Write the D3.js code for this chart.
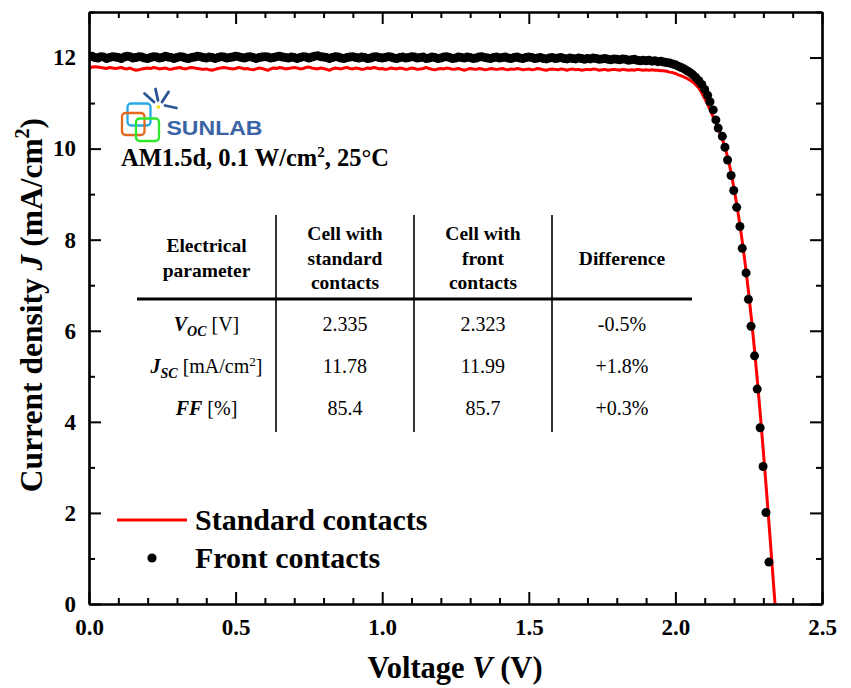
<!DOCTYPE html>
<html>
<head>
<meta charset="utf-8">
<script src="https://cdn.jsdelivr.net/npm/d3@7"></script>
<style>
  body { margin: 0; background: #fff; }
  svg { display: block; }
  svg text { font-family: "Liberation Serif", "Times New Roman", serif; }
</style>
</head>
<body>
<svg id="chart" width="851" height="688"></svg>
<script>
// measurement grid (V) shared by both curves
const gridV = [
  0.00,0.01,0.02,0.03,0.04,0.05,0.06,0.07,0.08,0.09,
  0.10,0.11,0.12,0.13,0.14,0.15,0.16,0.17,0.18,0.19,
  0.20,0.21,0.22,0.23,0.24,0.25,0.26,0.27,0.28,0.29,
  0.30,0.31,0.32,0.33,0.34,0.35,0.36,0.37,0.38,0.39,
  0.40,0.41,0.42,0.43,0.44,0.45,0.46,0.47,0.48,0.49,
  0.50,0.51,0.52,0.53,0.54,0.55,0.56,0.57,0.58,0.59,
  0.60,0.61,0.62,0.63,0.64,0.65,0.66,0.67,0.68,0.69,
  0.70,0.71,0.72,0.73,0.74,0.75,0.76,0.77,0.78,0.79,
  0.80,0.81,0.82,0.83,0.84,0.85,0.86,0.87,0.88,0.89,
  0.90,0.91,0.92,0.93,0.94,0.95,0.96,0.97,0.98,0.99,
  1.00,1.01,1.02,1.03,1.04,1.05,1.06,1.07,1.08,1.09,
  1.10,1.11,1.12,1.13,1.14,1.15,1.16,1.17,1.18,1.19,
  1.20,1.21,1.22,1.23,1.24,1.25,1.26,1.27,1.28,1.29,
  1.30,1.31,1.32,1.33,1.34,1.35,1.36,1.37,1.38,1.39,
  1.40,1.41,1.42,1.43,1.44,1.45,1.46,1.47,1.48,1.49,
  1.50,1.51,1.52,1.53,1.54,1.55,1.56,1.57,1.58,1.59,
  1.60,1.61,1.62,1.63,1.64,1.65,1.66,1.67,1.68,1.69,
  1.70,1.71,1.72,1.73,1.74,1.75,1.76,1.77,1.78,1.79,
  1.80,1.81,1.82,1.83,1.84,1.85,1.86,1.87,1.88,1.89,
  1.90,1.91,1.92,1.93,1.94,1.95,1.96,1.97,1.98,1.99,
  2.00,2.01,2.02,2.03,2.04,2.05,2.06,2.07,2.08,2.09,
  2.10,2.11,2.12,2.13,2.14,2.15,2.16,2.17,2.18,2.19,
  2.20,2.21,2.22,2.23,2.24,2.25,2.26,2.27,2.28,2.29,
  2.30,2.31,2.32,2.33,2.34
];

// Standard contacts (red line), J in mA/cm2 on gridV
const standardJ = [
  11.76,11.79,11.80,11.79,11.78,11.77,11.76,11.78,11.77,11.76,
  11.77,11.78,11.76,11.75,11.77,11.74,11.72,11.73,11.75,11.76,
  11.77,11.76,11.78,11.77,11.75,11.76,11.77,11.75,11.74,11.76,
  11.77,11.78,11.76,11.75,11.77,11.78,11.77,11.76,11.75,11.74,
  11.75,11.73,11.72,11.74,11.76,11.77,11.78,11.77,11.76,11.75,
  11.76,11.78,11.77,11.75,11.76,11.74,11.73,11.75,11.77,11.76,
  11.74,11.72,11.75,11.77,11.76,11.78,11.77,11.75,11.76,11.77,
  11.78,11.77,11.75,11.76,11.78,11.79,11.77,11.76,11.75,11.77,
  11.76,11.74,11.72,11.75,11.77,11.76,11.75,11.77,11.78,11.76,
  11.75,11.77,11.76,11.74,11.75,11.77,11.76,11.78,11.77,11.75,
  11.76,11.74,11.75,11.77,11.76,11.75,11.77,11.76,11.74,11.75,
  11.77,11.76,11.74,11.75,11.76,11.78,11.76,11.74,11.73,11.75,
  11.76,11.75,11.77,11.76,11.74,11.75,11.76,11.74,11.72,11.74,
  11.76,11.75,11.74,11.76,11.75,11.73,11.74,11.76,11.75,11.74,
  11.75,11.76,11.74,11.73,11.75,11.74,11.76,11.75,11.73,11.74,
  11.75,11.73,11.74,11.76,11.75,11.73,11.72,11.74,11.75,11.74,
  11.73,11.75,11.74,11.72,11.74,11.75,11.73,11.74,11.72,11.73,
  11.74,11.73,11.75,11.74,11.72,11.73,11.74,11.72,11.73,11.74,
  11.73,11.72,11.74,11.73,11.72,11.73,11.72,11.74,11.73,11.72,
  11.73,11.72,11.73,11.72,11.72,11.71,11.71,11.70,11.68,11.67,
  11.65,11.62,11.60,11.57,11.54,11.50,11.46,11.40,11.33,11.22,
  11.10,10.97,10.83,10.68,10.53,10.38,10.21,10.01,9.77,9.47,
  9.12,8.74,8.33,7.87,7.37,6.82,6.22,5.57,4.87,4.13,
  3.35,2.54,1.70,0.84,-0.02
];

// Front contacts (black dots), J on gridV from 0.00 to 2.10 V
const frontFlatJ = [
  12.01,12.03,12.00,11.99,12.02,12.01,11.98,12.00,12.02,12.01,
  12.00,11.98,12.01,12.03,12.02,11.99,12.00,12.02,12.01,11.99,
  11.98,12.00,12.02,12.01,11.99,12.00,12.03,12.01,12.00,11.98,
  12.00,12.02,12.01,11.99,11.98,12.00,12.01,12.03,12.02,12.00,
  11.99,12.01,12.00,11.98,12.00,12.02,12.01,11.99,12.00,12.01,
  12.03,12.02,12.00,11.99,12.01,12.02,12.00,11.98,12.00,12.01,
  12.02,12.01,11.99,12.00,12.02,12.03,12.01,12.00,11.99,12.01,
  12.00,11.98,12.00,12.02,12.01,11.99,12.01,12.03,12.04,12.02,
  12.01,12.00,11.98,12.00,12.02,12.01,11.99,11.98,12.00,12.01,
  12.02,12.00,11.99,12.01,12.00,11.98,11.99,12.01,12.02,12.00,
  11.99,12.00,12.02,12.01,11.99,11.98,12.00,12.01,11.99,12.00,
  12.02,12.01,11.99,12.00,12.01,11.98,11.99,12.01,12.00,11.98,
  11.99,12.01,12.02,12.00,11.98,11.99,12.01,12.00,11.99,12.01,
  12.00,11.98,11.99,12.01,12.02,12.00,11.99,11.98,12.00,12.01,
  11.99,12.00,12.01,11.99,11.98,12.00,12.01,11.99,11.98,12.00,
  12.01,12.00,11.98,11.99,12.00,11.98,11.97,11.99,12.00,11.98,
  11.99,12.00,11.98,11.97,11.99,11.98,11.97,11.99,11.98,11.96,
  11.98,11.97,11.99,11.98,11.96,11.97,11.98,11.96,11.95,11.97,
  11.96,11.95,11.97,11.96,11.94,11.95,11.96,11.94,11.93,11.94,
  11.93,11.94,11.92,11.93,11.91,11.92,11.90,11.89,11.88,11.86,
  11.84,11.81,11.78,11.75,11.71,11.67,11.62,11.56,11.49,11.41,
  11.30
];
// Front contacts, knee and steep part (read point by point)
const frontKneeV = [2.110,2.118,2.129,2.138,2.146,2.160,2.169,2.178,2.190,2.199,2.209,
  2.220,2.228,2.241,2.249,2.258,2.270,2.279,2.289,2.299,2.309,2.319];
const frontKneeJ = [11.17,11.03,10.85,10.63,10.45,10.27,10.03,9.75,9.41,9.08,8.71,
  8.29,7.81,7.27,6.69,6.10,5.45,4.72,3.87,3.02,2.01,0.92];

const xMajor = [0, 0.5, 1.0, 1.5, 2.0, 2.5];
const xMinor = [0.1,0.2,0.3,0.4,0.6,0.7,0.8,0.9,1.1,1.2,1.3,1.4,1.6,1.7,1.8,1.9,2.1,2.2,2.3,2.4];
const yMajor = [0, 2, 4, 6, 8, 10, 12];
const yMinor = [1, 3, 5, 7, 9, 11, 13];

// table contents
const headerParam = ["Electrical", "parameter"];
const headerStandard = ["Cell with", "standard", "contacts"];
const headerFront = ["Cell with", "front", "contacts"];
const headerDiff = ["Difference"];
const standardVals = ["2.335", "11.78", "85.4"];
const frontVals = ["2.323", "11.99", "85.7"];
const diffVals = ["-0.5%", "+1.8%", "+0.3%"];

const legendLabels = ["Standard contacts", "Front contacts"];

const SERIF = "Liberation Serif, Times New Roman, serif";
const svg = d3.select("#chart");
const plotL = 89, plotR = 822, plotT = 12, plotB = 604;

const x = d3.scaleLinear().domain([0, 2.5]).range([plotL, plotR]);
const y = d3.scaleLinear().domain([0, 13]).range([plotB, plotT]);

svg.append("defs").append("clipPath").attr("id", "plotclip")
  .append("rect").attr("x", plotL).attr("y", plotT)
  .attr("width", plotR - plotL).attr("height", plotB - plotT);

// ---- data
const plot = svg.append("g").attr("clip-path", "url(#plotclip)");

const redPts = gridV.map((v, i) => [v, standardJ[i]]);
plot.append("path")
  .datum(redPts)
  .attr("fill", "none")
  .attr("stroke", "#ff0000")
  .attr("stroke-width", 3)
  .attr("stroke-linejoin", "round")
  .attr("d", d3.line().x(d => x(d[0])).y(d => y(d[1])));

const blackPts = frontFlatJ.map((j, i) => [gridV[i], j])
  .concat(frontKneeV.map((v, i) => [v, frontKneeJ[i]]));
plot.selectAll("circle.front")
  .data(blackPts)
  .join("circle")
  .attr("class", "front")
  .attr("cx", d => x(d[0]))
  .attr("cy", d => y(d[1]))
  .attr("r", 4.5)
  .attr("fill", "#000");

// ---- axes (ticks point inward)
function styleAxis(g) {
  g.select(".domain").attr("stroke-width", 2.2);
  g.selectAll(".tick line").attr("stroke-width", 2);
  g.selectAll("text")
    .attr("font-family", SERIF)
    .attr("font-weight", "bold")
    .attr("font-size", 23)
    .attr("fill", "#000");
}

svg.append("g").attr("transform", `translate(0,${plotB})`)
  .call(d3.axisBottom(x).tickValues(xMajor).tickFormat(d3.format(".1f"))
    .tickSizeInner(-12).tickSizeOuter(0).tickPadding(15))
  .call(styleAxis);
svg.append("g").attr("transform", `translate(0,${plotB})`)
  .call(d3.axisBottom(x).tickValues(xMinor).tickFormat("").tickSizeInner(-6).tickSizeOuter(0))
  .call(styleAxis);
svg.append("g").attr("transform", `translate(0,${plotT})`)
  .call(d3.axisTop(x).tickValues(xMajor).tickFormat("").tickSizeInner(-12).tickSizeOuter(0))
  .call(styleAxis);
svg.append("g").attr("transform", `translate(0,${plotT})`)
  .call(d3.axisTop(x).tickValues(xMinor).tickFormat("").tickSizeInner(-6).tickSizeOuter(0))
  .call(styleAxis);

svg.append("g").attr("transform", `translate(${plotL},0)`)
  .call(d3.axisLeft(y).tickValues(yMajor).tickFormat(d3.format("d"))
    .tickSizeInner(-12).tickSizeOuter(0).tickPadding(13))
  .call(styleAxis);
svg.append("g").attr("transform", `translate(${plotL},0)`)
  .call(d3.axisLeft(y).tickValues(yMinor).tickFormat("").tickSizeInner(-6).tickSizeOuter(0))
  .call(styleAxis);
svg.append("g").attr("transform", `translate(${plotR},0)`)
  .call(d3.axisRight(y).tickValues(yMajor).tickFormat("").tickSizeInner(-12).tickSizeOuter(0))
  .call(styleAxis);
svg.append("g").attr("transform", `translate(${plotR},0)`)
  .call(d3.axisRight(y).tickValues(yMinor).tickFormat("").tickSizeInner(-6).tickSizeOuter(0))
  .call(styleAxis);

// ---- axis titles
const xTitle = svg.append("text").attr("font-family", SERIF)
  .attr("x", 455).attr("y", 678)
  .attr("text-anchor", "middle").attr("font-size", 30.5).attr("font-weight", "bold");
xTitle.append("tspan").text("Voltage ");
xTitle.append("tspan").attr("font-style", "italic").text("V");
xTitle.append("tspan").text(" (V)");

const yTitle = svg.append("text").attr("font-family", SERIF)
  .attr("transform", "translate(42,305) rotate(-90)")
  .attr("text-anchor", "middle").attr("font-size", 31.5).attr("font-weight", "bold");
yTitle.append("tspan").text("Current density ");
yTitle.append("tspan").attr("font-style", "italic").text("J");
yTitle.append("tspan").text(" (mA/cm");
yTitle.append("tspan").attr("font-size", 20).attr("dy", -13).text("2");
yTitle.append("tspan").attr("dy", 13).text(")");

// ---- SUNLAB logo
const logo = svg.append("g");
logo.append("rect").attr("x", 127.5).attr("y", 103.5).attr("width", 23).attr("height", 22)
  .attr("rx", 3.5).attr("fill", "none").attr("stroke", "#29a8e6").attr("stroke-width", 2.3);
logo.append("rect").attr("x", 122).attr("y", 113).attr("width", 22.5).attr("height", 22)
  .attr("rx", 3.5).attr("fill", "none").attr("stroke", "#e4691f").attr("stroke-width", 2.3);
logo.append("rect").attr("x", 136).attr("y", 118.5).attr("width", 23).attr("height", 22.5)
  .attr("rx", 3.5).attr("fill", "none").attr("stroke", "#2ee82e").attr("stroke-width", 2.3);
const rays = [[144.5, 93.5, 154, 102], [155.5, 89, 158, 100.5], [168.5, 92, 162, 102], [165, 105.5, 176.5, 108]];
logo.selectAll("line.ray").data(rays).join("line")
  .attr("x1", d => d[0]).attr("y1", d => d[1]).attr("x2", d => d[2]).attr("y2", d => d[3])
  .attr("stroke", "#2c5597").attr("stroke-width", 2.8).attr("stroke-linecap", "round");
logo.append("circle").attr("cx", 158.3).attr("cy", 107).attr("r", 1.8).attr("fill", "#f5e000");
logo.append("text")
  .attr("x", 166.5).attr("y", 135)
  .style("font-family", "Liberation Sans, Arial, sans-serif")
  .attr("font-size", 20).attr("font-weight", "bold")
  .attr("fill", "#3a64a6")
  .attr("textLength", 96).attr("lengthAdjust", "spacingAndGlyphs")
  .text("SUNLAB");

const cond = svg.append("text").attr("font-family", SERIF)
  .attr("x", 121).attr("y", 166).attr("font-size", 24.5).attr("font-weight", "bold");
cond.append("tspan").text("AM1.5d, 0.1 W/cm");
cond.append("tspan").attr("font-size", 15).attr("dy", -9).text("2");
cond.append("tspan").attr("dy", 9).text(", 25°C");

// ---- table
const table = svg.append("g");
const colEdges = [137, 276, 414, 552, 692];
const colMid = d3.range(4).map(i => (colEdges[i] + colEdges[i + 1]) / 2);

table.append("line").attr("x1", colEdges[0]).attr("x2", colEdges[4])
  .attr("y1", 299).attr("y2", 299).attr("stroke", "#000").attr("stroke-width", 3);
table.selectAll("line.vsep").data(colEdges.slice(1, 4)).join("line")
  .attr("class", "vsep")
  .attr("x1", d => d).attr("x2", d => d).attr("y1", 215).attr("y2", 432)
  .attr("stroke", "#000").attr("stroke-width", 1.6);

function headerCell(lines, cx, y0) {
  lines.forEach((line, i) => {
    table.append("text")
      .attr("font-family", SERIF)
      .attr("x", cx).attr("y", y0 + i * 24.5)
      .attr("text-anchor", "middle").attr("font-size", 19.5).attr("font-weight", "bold")
      .text(line);
  });
}
headerCell(headerParam, colMid[0], 252);
headerCell(headerStandard, colMid[1], 240);
headerCell(headerFront, colMid[2], 240);
headerCell(headerDiff, colMid[3], 265);

const rowY = [331, 373, 415];

// row labels with italic symbols and subscripts
function rowLabel(i) {
  return table.append("text").attr("font-family", SERIF)
    .attr("x", colMid[0]).attr("y", rowY[i])
    .attr("text-anchor", "middle").attr("font-size", 20);
}
const r0 = rowLabel(0);
r0.append("tspan").attr("font-weight", "bold").attr("font-style", "italic").text("V");
r0.append("tspan").attr("font-weight", "bold").attr("font-style", "italic")
  .attr("font-size", 14).attr("dy", 5).text("OC");
r0.append("tspan").attr("dy", -5).text(" [V]");

const r1 = rowLabel(1);
r1.append("tspan").attr("font-weight", "bold").attr("font-style", "italic").text("J");
r1.append("tspan").attr("font-weight", "bold").attr("font-style", "italic")
  .attr("font-size", 14).attr("dy", 5).text("SC");
r1.append("tspan").attr("dy", -5).text(" [mA/cm");
r1.append("tspan").attr("font-size", 13).attr("dy", -7).text("2");
r1.append("tspan").attr("dy", 7).text("]");

const r2 = rowLabel(2);
r2.append("tspan").attr("font-weight", "bold").attr("font-style", "italic").text("FF");
r2.append("tspan").text(" [%]");

[standardVals, frontVals, diffVals].forEach((vals, c) => {
  vals.forEach((v, i) => {
    table.append("text").attr("font-family", SERIF)
      .attr("x", colMid[c + 1]).attr("y", rowY[i])
      .attr("text-anchor", "middle").attr("font-size", 20)
      .text(v);
  });
});

// ---- legend
const legend = svg.append("g");
legend.append("line").attr("x1", 117).attr("x2", 187).attr("y1", 520).attr("y2", 520)
  .attr("stroke", "#ff0000").attr("stroke-width", 3);
legend.append("circle").attr("cx", 152).attr("cy", 558).attr("r", 4.6).attr("fill", "#000");
legendLabels.forEach((label, i) => {
  legend.append("text").attr("font-family", SERIF)
    .attr("x", 195).attr("y", 530 + i * 38)
    .attr("font-size", 30).attr("font-weight", "bold")
    .text(label);
});
</script>
</body>
</html>
